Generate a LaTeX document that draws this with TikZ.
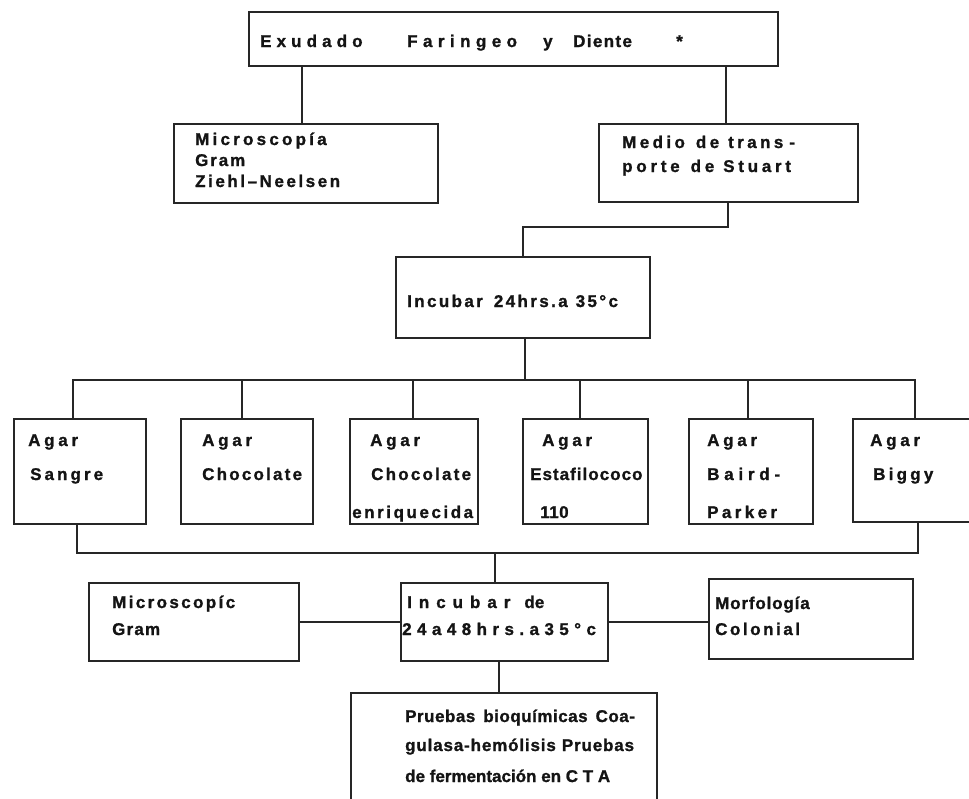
\documentclass[tikz,border=0pt]{standalone}
\usepackage{fontspec}
\setmainfont{Liberation Sans}[BoldFeatures={FakeBold=1.2}]
\newcommand\lsp[1]{\addfontfeature{LetterSpace=#1}}
\begin{document}
\begin{tikzpicture}[x=1pt,y=-1pt,
  box/.style={draw=black!85, line width=1.6pt, inner sep=0pt, anchor=north west},
  txt/.style={anchor=base west, inner sep=0pt, text=black!92, font=\fontsize{17}{20}\selectfont\bfseries},
  wire/.style={draw=black!85, line width=1.6pt}]
\useasboundingbox (0,0) rectangle (969,798);
\clip (0,0) rectangle (969,798);
% boxes
\node[box, minimum width=529pt, minimum height=54pt] (title) at (248,11) {};
\node[box, minimum width=264pt, minimum height=79pt] (micro) at (173,123) {};
\node[box, minimum width=259pt, minimum height=78pt] (medio) at (598,123) {};
\node[box, minimum width=254pt, minimum height=81pt] (inc1) at (395,256) {};
\node[box, minimum width=132pt, minimum height=105pt] (sangre) at (13,418) {};
\node[box, minimum width=132pt, minimum height=105pt] (choc) at (180,418) {};
\node[box, minimum width=128pt, minimum height=105pt] (chocE) at (349,418) {};
\node[box, minimum width=125pt, minimum height=105pt] (estaf) at (522,418) {};
\node[box, minimum width=124pt, minimum height=105pt] (baird) at (688,418) {};
\node[box, minimum width=150pt, minimum height=103pt] (biggy) at (852,418) {};
\node[box, minimum width=210pt, minimum height=78pt] (micro2) at (88,582) {};
\node[box, minimum width=207pt, minimum height=78pt] (inc2) at (400,582) {};
\node[box, minimum width=204pt, minimum height=80pt] (morf) at (708,578) {};
\node[box, minimum width=306pt, minimum height=150pt] (pruebas) at (350,692) {};
% connectors
\coordinate (mid1) at (600,227);
\coordinate (bus1) at (500,380);
\coordinate (bus2) at (495,553);
\draw[wire] ([xshift=54pt]title.south west) -- ([xshift=129pt]micro.north west);
\draw[wire] ([xshift=478pt]title.south west) -- ([xshift=128pt]medio.north west);
\draw[wire] ([xshift=130pt]medio.south west) |- (mid1) -| ([xshift=128pt]inc1.north west);
\draw[wire] ([xshift=130pt]inc1.south west) |- (bus1);
\draw[wire] ([xshift=60pt]sangre.north west) |- (bus1) -| ([xshift=63pt]biggy.north west);
\draw[wire] ([xshift=62pt]choc.north west) |- (bus1);
\draw[wire] ([xshift=64pt]chocE.north west) |- (bus1);
\draw[wire] ([xshift=58pt]estaf.north west) |- (bus1);
\draw[wire] ([xshift=60pt]baird.north west) |- (bus1);
\draw[wire] ([xshift=64pt]sangre.south west) |- (bus2) -| ([xshift=66pt]biggy.south west);
\draw[wire] (bus2) -- ([xshift=95pt]inc2.north west);
\draw[wire] (micro2.east) -- (inc2.west);
\draw[wire] (inc2.east) -- (inc2.east -| morf.west);
\draw[wire] ([xshift=99pt]inc2.south west) -- ([xshift=149pt]pruebas.north west);
% texts
\node[txt] (ta) at (260,47) {\lsp{30}Exudado};
\node[txt] (tb) at (407,47) {\lsp{32}Faringeo};
\node[txt] (tc) at (543,47) {y};
\node[txt] (td) at (573,47) {\lsp{8}Diente};
\node[txt] (te) at (676,47) {*};
\node[txt] (m1) at (195,145) {\lsp{19}Microscopía};
\node[txt] (m2) at (195,166) {\lsp{11}Gram};
\node[txt] (m3) at (195,187) {\lsp{15}Ziehl–Neelsen};
\node[txt] (s1) at (622,148) {\lsp{20}Medio\hspace{11pt}de\hspace{9pt}trans\hspace{6pt}-};
\node[txt] (s2) at (622,172) {\lsp{22}porte\hspace{11pt}de\hspace{9pt}Stuart};
\node[txt] (i1) at (407,307) {\lsp{14}Incubar\hspace{11pt}24hrs.a\hspace{8pt}35°c};
\node[txt] (a1) at (28,446) {\lsp{22}Agar};
\node[txt] (a2) at (30,480) {\lsp{18}Sangre};
\node[txt] (b1) at (202,446) {\lsp{22}Agar};
\node[txt] (b2) at (202,480) {\lsp{13}Chocolate};
\node[txt] (c1) at (370,446) {\lsp{22}Agar};
\node[txt] (c2) at (371,480) {\lsp{13}Chocolate};
\node[txt] (c3) at (352,518) {\lsp{15}enriquecida};
\node[txt] (d1) at (542,446) {\lsp{22}Agar};
\node[txt] (d2) at (530,480) {\lsp{6}Estafilococo};
\node[txt] (d3) at (540,518) {\lsp{3}110};
\node[txt] (e1) at (707,446) {\lsp{22}Agar};
\node[txt] (e2) at (707,480) {\lsp{28}Baird-};
\node[txt] (e3) at (707,518) {\lsp{20}Parker};
\node[txt] (f1) at (870,446) {\lsp{22}Agar};
\node[txt] (f2) at (873,480) {\lsp{19}Biggy};
\node[txt] (g1) at (112,608) {\lsp{14}Microscopíc};
\node[txt] (g2) at (112,635) {\lsp{7}Gram};
\node[txt] (h1) at (407,608) {{\lsp{41}Incubar}\hspace{14pt}de};
\node[txt] (h2) at (402,635) {\lsp{32}24a48hrs.a35°c};
\node[txt] (k1) at (715,609) {\lsp{5}Morfología};
\node[txt] (k2) at (715,635) {\lsp{15}Colonial};
\node[txt] (p1) at (405,722) {\lsp{3}Pruebas\hspace{8pt}bioquímicas\hspace{8pt}Coa-};
\node[txt] (p2) at (405,751) {\lsp{5}gulasa-hemólisis\hspace{6pt}Pruebas};
\node[txt] (p3) at (405,782) {de fermentación en C T A};
\end{tikzpicture}
\end{document}
